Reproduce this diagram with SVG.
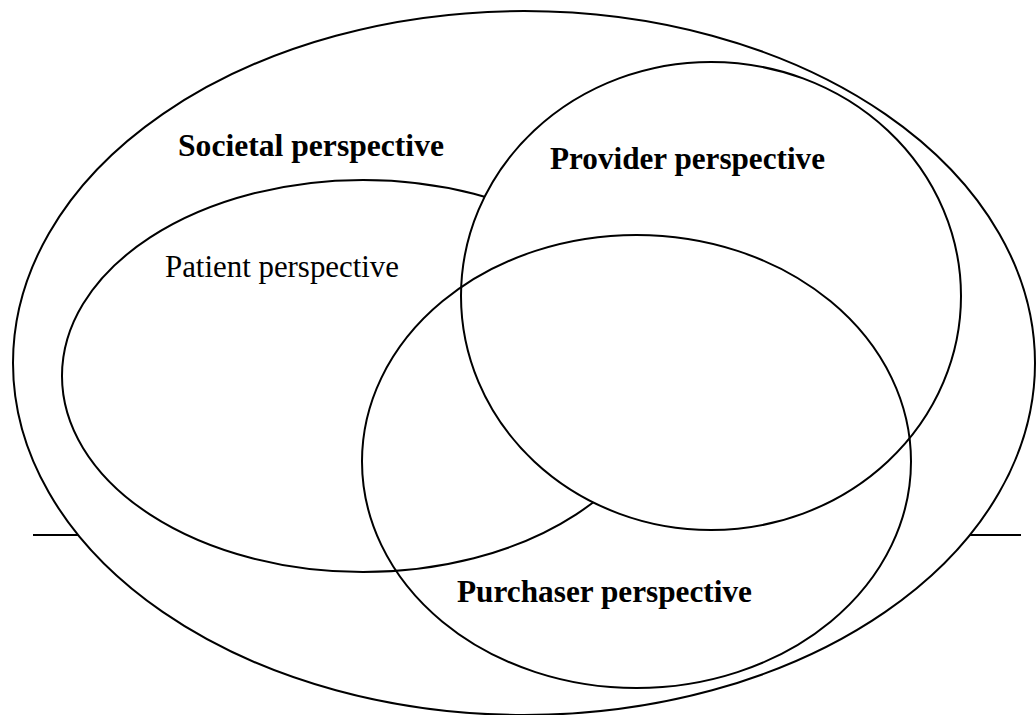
<svg xmlns="http://www.w3.org/2000/svg" width="1036" height="715" viewBox="0 0 1036 715">
<style>
.sh{stroke:#000;stroke-width:2;}
.lbl{font-family:"Liberation Serif","Times New Roman",serif;font-size:31px;fill:#000;}
.b{font-weight:bold;}
</style>
<rect width="1036" height="715" fill="#fff"/>
<g id="baseline">
<line class="sh" x1="33" y1="535" x2="1021" y2="535"/>
</g>
<g id="societal">
<ellipse class="sh" cx="524" cy="363" rx="511" ry="352" fill="#fff"/>
<text class="lbl b" x="178" y="156" textLength="266" lengthAdjust="spacingAndGlyphs">Societal perspective</text>
</g>
<g id="patient">
<ellipse class="sh" cx="363" cy="376" rx="301" ry="196" fill="none"/>
<text class="lbl" x="165" y="277" textLength="234" lengthAdjust="spacingAndGlyphs">Patient perspective</text>
</g>
<g id="provider">
<ellipse class="sh" cx="711" cy="296" rx="250" ry="234" fill="#fff"/>
<text class="lbl b" x="550" y="169" textLength="275" lengthAdjust="spacingAndGlyphs">Provider perspective</text>
</g>
<g id="purchaser">
<ellipse class="sh" cx="636.5" cy="461.5" rx="274.5" ry="226.5" fill="none"/>
<text class="lbl b" x="457" y="602" textLength="295" lengthAdjust="spacingAndGlyphs">Purchaser perspective</text>
</g>
<g id="connectors"></g>
</svg>
